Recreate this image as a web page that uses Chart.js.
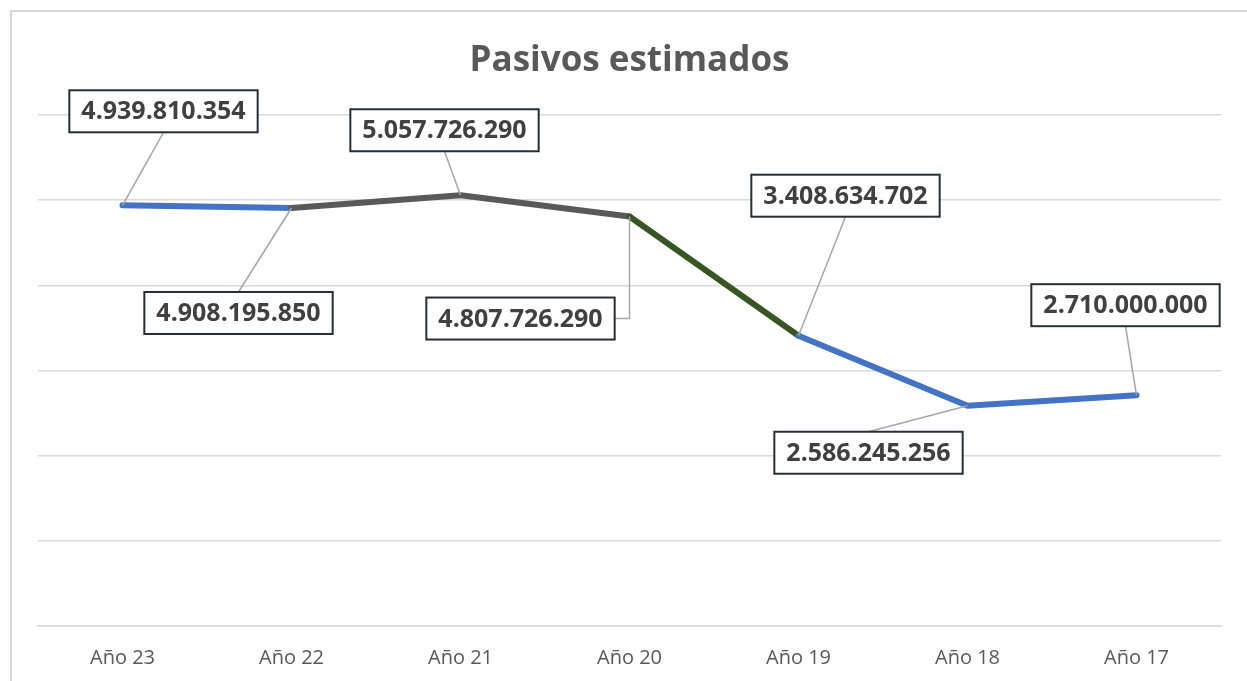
<!DOCTYPE html>
<html>
<head>
<meta charset="utf-8">
<script src="https://cdn.jsdelivr.net/npm/chart.js@4.4.1/dist/chart.umd.min.js"></script>
<style>
  html, body { margin: 0; padding: 0; background: #fff; overflow: hidden; }
  #frame { position: absolute; left: 10px; top: 10px; width: 1300px; height: 700px;
           border-left: 2px solid #d9d9d9; border-top: 2px solid #d9d9d9; }
  #wheel { position: absolute; left: 0; top: 0; }
</style>
</head>
<body>
<div id="frame"></div>
<canvas id="wheel" width="1247" height="681"></canvas>
<script>
const categories = ['Año 23', 'Año 22', 'Año 21', 'Año 20', 'Año 19', 'Año 18', 'Año 17'];
const pasivos = [4939810354, 4908195850, 5057726290, 4807726290, 3408634702, 2586245256, 2710000000];
// colour of each segment between two years
const segmentColors = ['#4472C4', '#595959', '#595959', '#375623', '#4472C4', '#4472C4'];
// where each value box sits, relative to its point (px)
const labelOffsets = [[41, -94], [-53, 105], [-16, -65], [-109, 102], [47, -140], [-99, 47], [-11, -90]];

const fmt = (v) => String(v).replace(/\B(?=(\d{3})+(?!\d))/g, '.');

//Plugin that draws the boxed value labels with their leader lines
const boxLabels = {
  id: 'boxLabels',
  afterDatasetsDraw(chart) {
    const ctx = chart.ctx;
    const meta = chart.getDatasetMeta(0);
    ctx.save();
    ctx.font = 'bold 25px "Open Sans"';
    meta.data.forEach((pt, i) => {
      const text = fmt(pasivos[i]);
      const w = ctx.measureText(text).width + 24;
      const h = 42;
      const cx = pt.x + labelOffsets[i][0];
      const cy = pt.y + labelOffsets[i][1];
      const left = cx - w / 2, top = cy - h / 2;
      //leader line
      ctx.strokeStyle = '#a6a6a6';
      ctx.lineWidth = 1.5;
      ctx.beginPath();
      ctx.moveTo(pt.x, pt.y);
      if (Math.abs(pt.x - cx) > w / 2 + 8) {
        const edge = pt.x > cx ? left + w : left;
        ctx.lineTo(pt.x, cy);
        ctx.lineTo(edge, cy);
      } else {
        ctx.lineTo(cx, cy > pt.y ? top : top + h);
      }
      ctx.stroke();
      //box
      ctx.fillStyle = '#ffffff';
      ctx.fillRect(left, top, w, h);
      ctx.strokeStyle = '#262e3a';
      ctx.lineWidth = 2;
      ctx.strokeRect(left, top, w, h);
      //text
      ctx.fillStyle = '#404040';
      ctx.textAlign = 'center';
      ctx.textBaseline = 'middle';
      ctx.fillText(text, cx, cy + 1);
    });
    ctx.restore();
  }
};

const wheel = document.getElementById('wheel');
let myChart = new Chart(wheel, {
  type: 'line',
  plugins: [boxLabels],
  data: {
    labels: categories,
    datasets: [
      {
        data: pasivos,
        borderWidth: 6,
        borderColor: '#4472C4',
        borderCapStyle: 'round',
        borderJoinStyle: 'round',
        pointRadius: 0,
        tension: 0,
        segment: {
          borderColor: (c) => segmentColors[c.p0DataIndex],
        },
      },
    ],
  },
  options: {
    responsive: false,
    animation: false,
    layout: { padding: { left: 38, right: 26, top: 0, bottom: -9 } },
    plugins: {
      legend: { display: false },
      tooltip: { enabled: false },
      title: {
        display: true,
        text: 'Pasivos estimados',
        color: '#595959',
        font: { family: '"Open Sans"', size: 35, weight: 'bold' },
        padding: { top: 40, bottom: 33 },
      },
    },
    scales: {
      x: {
        offset: true,
        grid: { display: false, drawTicks: false, offset: true },
        border: { display: true, color: '#d9d9d9', width: 1.5 },
        ticks: { color: '#595959', font: { family: '"Open Sans"', size: 20 }, padding: 20 },
      },
      y: {
        min: 0,
        max: 6000000000,
        ticks: { display: false, stepSize: 1000000000 },
        grid: { color: '#d9d9d9', lineWidth: 1.5, drawTicks: false },
        border: { display: false },
      },
    },
  },
});
</script>
</body>
</html>
